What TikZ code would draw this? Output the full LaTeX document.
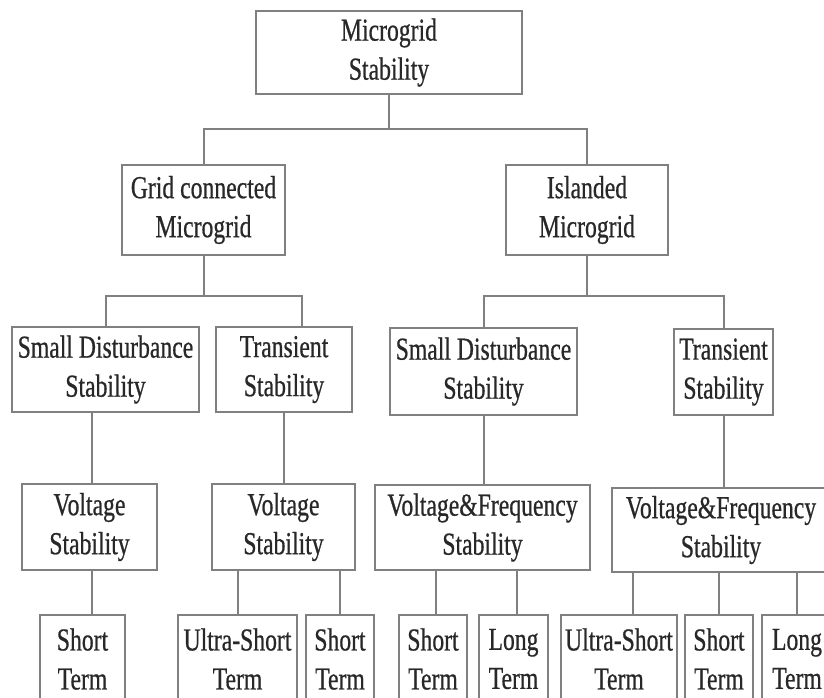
\documentclass[tikz,border=0pt]{standalone}
\usepackage{fontspec}
\setmainfont[FakeStretch=0.74,FakeBold=0.6]{Liberation Serif}
\definecolor{lncol}{RGB}{128,128,128}
\definecolor{txcol}{RGB}{40,40,40}
\tikzset{
  bx/.style={draw=lncol, line width=2.2pt, inner sep=0pt, align=center,
    text=txcol, font=\fontsize{32}{39}\selectfont},
  ln/.style={draw=lncol, line width=2pt}
}
\newcommand{\bxnode}[6]{\node[bx, minimum width=#4pt, minimum height=#5pt] (#1) at (#2,#3) {#6};}
\begin{document}
\begin{tikzpicture}[x=1pt,y=-1pt]
\clip (0,0) rectangle (824,697);
\fill[white] (0,0) rectangle (824,697);
% level 1
\bxnode{top}{389}{52.5}{266}{83}{Microgrid\\Stability}
% level 2
\bxnode{gc}{203.5}{210}{163}{90}{Grid connected\\Microgrid}
\bxnode{isl}{587}{210}{162}{90}{Islanded\\Microgrid}
% level 3
\bxnode{sda}{105.5}{369.5}{187}{85}{Small Disturbance\\Stability}
\bxnode{tra}{284}{369.5}{136}{85}{Transient\\Stability}
\bxnode{sdb}{483.5}{371.5}{187}{87}{Small Disturbance\\Stability}
\bxnode{trb}{723.5}{372}{99}{86}{Transient\\Stability}
% level 4
\bxnode{vsa}{89.5}{527}{135}{86}{Voltage\\Stability}
\bxnode{vsb}{283.5}{527}{143}{86}{Voltage\\Stability}
\bxnode{vfa}{482.5}{527.5}{215}{85}{Voltage\&Frequency\\Stability}
\bxnode{vfb}{721}{530}{218}{84}{Voltage\&Frequency\\Stability}
% level 5
\bxnode{sta}{82.5}{659}{85}{88}{Short\\Term}
\bxnode{usa}{237.5}{659}{119}{88}{Ultra-Short\\Term}
\bxnode{stb}{340}{659}{68}{88}{Short\\Term}
\bxnode{stc}{433}{659}{68}{88}{Short\\Term}
\bxnode{lta}{513.5}{659}{69}{88}{Long\\Term}
\bxnode{usb}{619}{659}{116}{88}{Ultra-Short\\Term}
\bxnode{std}{719}{659}{68}{88}{Short\\Term}
\bxnode{ltb}{797}{659}{70}{88}{Long\\Term}
% buses
\coordinate (bus0) at (389,129);
\coordinate (bus1) at (203.5,296);
\coordinate (bus2) at (587,296);
% connectors level 1-2
\draw[ln] (top.south) -- (bus0);
\draw[ln] (gc.north) |- (bus0) -| (isl.north);
% level 2-3
\draw[ln] (gc.south) -- (bus1);
\draw[ln] (sda.north) |- (bus1) -| ([xshift=18pt]tra.north);
\draw[ln] (isl.south) -- (bus2);
\draw[ln] (sdb.north) |- (bus2) -| (trb.north);
% level 3-4
\draw[ln] ([xshift=2pt]vsa.north) -- ([xshift=2pt]vsa.north |- sda.south);
\draw[ln] (tra.south) -- (tra.south |- vsb.north);
\draw[ln] (sdb.south) -- (sdb.south |- vfa.north);
\draw[ln] (trb.south) -- (trb.south |- vfb.north);
% level 4-5
\draw[ln] ([xshift=2pt]vsa.south) -- ([xshift=2pt]vsa.south |- sta.north);
\draw[ln] (usa.north) -- (usa.north |- vsb.south);
\draw[ln] (stb.north) -- (stb.north |- vsb.south);
\draw[ln] ([xshift=3pt]stc.north) -- ([xshift=3pt]stc.north |- vfa.south);
\draw[ln] ([xshift=3pt]lta.north) -- ([xshift=3pt]lta.north |- vfa.south);
\draw[ln] ([xshift=14pt]usb.north) -- ([xshift=14pt]usb.north |- vfb.south);
\draw[ln] (std.north) -- (std.north |- vfb.south);
\draw[ln] (ltb.north) -- (ltb.north |- vfb.south);
\end{tikzpicture}
\end{document}
